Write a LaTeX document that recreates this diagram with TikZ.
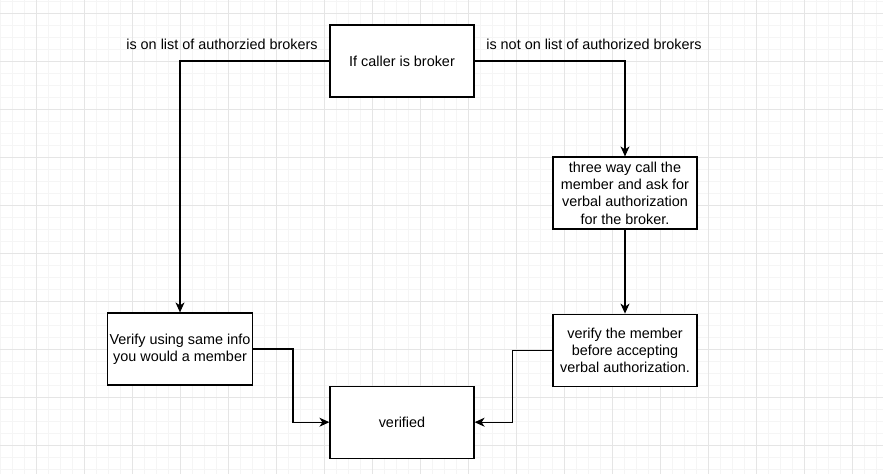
\documentclass[tikz,border=0pt]{standalone}
\usepackage{fontspec}
\setmainfont{Liberation Sans}
\usetikzlibrary{positioning,arrows.meta}

\begin{document}
\begin{tikzpicture}[x=1pt, y=-1pt,
        box/.style={draw, line width=1.2pt, fill=white, minimum width=144pt, minimum height=72pt, align=center, inner sep=2pt, font=\fontsize{14.4}{17.3}\selectfont},
        lbl/.style={font=\fontsize{14.4}{17.3}\selectfont},
        flow/.style={-{Stealth[length=10pt, width=9pt, inset=3pt]}, line width=1.2pt}]

        % Background grid
        \useasboundingbox (0,0) rectangle (883,474);
        \fill[white] (0,0) rectangle (883,474);
        \foreach \x in {0,12,...,876} \draw[black!4, line width=1pt] (\x,0) -- (\x,474);
        \foreach \y in {1,13,...,469} \draw[black!4, line width=1pt] (0,\y) -- (883,\y);
        \foreach \x in {36,84,...,852} \draw[black!10, line width=1pt] (\x,0) -- (\x,474);
        \foreach \y in {13,61,...,445} \draw[black!10, line width=1pt] (0,\y) -- (883,\y);

        % Decision box
        \node[box] (caller) at (402,61) {If caller is broker};

        % Branch labels
        \node[lbl] (onlist) at (222,44) {is on list of authorzied brokers};
        \node[lbl] (notonlist) at (594,44) {is not on list of authorized brokers};

        % Steps
        \node[box] (threeway) at (625,193) {three way call the\\member and ask for\\verbal authorization\\for the broker.};
        \node[box, below=84pt of threeway] (confirm) {verify the member\\before accepting\\verbal authorization.};
        \node[box] (verifyinfo) at (180,349) {Verify using same info\\you would a member};
        \node[box, below=288pt of caller] (verified) {verified};

        % Draw connections
        \draw[flow] (caller.west) -| (verifyinfo.north);
        \draw[flow] (caller.east) -| (threeway.north);
        \draw[flow] (threeway) -- (confirm);
        \draw[flow] (verifyinfo.east) -- ++(40,0) |- (verified.west);
        \draw[flow] (confirm.west) -- ++(-40,0) |- (verified.east);

\end{tikzpicture}
\end{document}
